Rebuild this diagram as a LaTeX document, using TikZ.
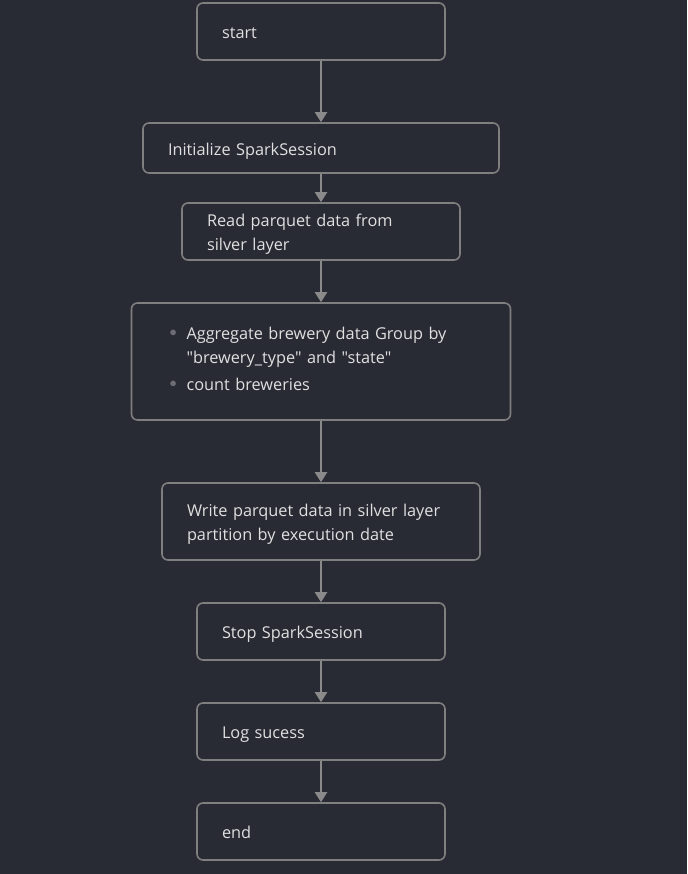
\documentclass[tikz,border=0pt]{standalone}
\usepackage{fontspec}
\newfontfamily\flowfont{Open Sans}
\usetikzlibrary{positioning,arrows.meta}
\definecolor{bgdark}{HTML}{282B34}
\definecolor{boxline}{HTML}{7F7F7F}
\definecolor{boxtext}{HTML}{E0E0E0}
\definecolor{arrowgray}{HTML}{8A8A8A}
\definecolor{dotgray}{HTML}{6C6E74}
\newcommand{\bitem}[1]{\hangindent=17pt\hangafter=1\makebox[17pt][l]{\textcolor{dotgray}{\raisebox{2.5pt}{\fontsize{14}{14}\selectfont$\bullet$}}}#1}

\begin{document}
\begin{tikzpicture}[x=1pt, y=-1pt, node distance=41.4pt, >={Triangle[width=12pt,length=10pt]}]
    \tikzstyle{stepbox} = [draw=boxline, line width=1.6pt, rounded corners=6pt, fill=bgdark, text=boxtext, align=left, inner sep=0pt, font=\flowfont\fontsize{16.3}{24}\selectfont, execute at begin node={\rule{0pt}{22pt}}, execute at end node={\rule[-7.2pt]{0pt}{7.2pt}}]
    \tikzstyle{arrow}   = [draw=arrowgray, fill=arrowgray, line width=2pt, ->]

    \fill[bgdark] (0,0) rectangle (687,874);
    \useasboundingbox (0,0) rectangle (687,874);

    \node [stepbox, minimum width=248pt, minimum height=57pt, text width=198pt] at (321,31.5) (start) {start};
    \node [stepbox, minimum width=356pt, minimum height=50pt, text width=306pt, below=61.4pt of start] (init) {Initialize SparkSession};
    \node [stepbox, minimum width=278pt, minimum height=57pt, text width=228pt, below=28.4pt of init] (read) {Read parquet data from\\silver layer};
    \node [stepbox, minimum width=379pt, minimum height=117pt, text width=303pt, below=of read, execute at end node={\rule[-15.2pt]{0pt}{15.2pt}}] (agg)
        {\bitem{Aggregate brewery data Group by\newline"brewery\_type" and "state"}\par\vspace{3pt}\bitem{count breweries}};
    \node [stepbox, minimum width=318pt, minimum height=77pt, text width=268pt, below=61.4pt of agg] (write) {Write parquet data in silver layer\\partition by execution date};
    \node [stepbox, minimum width=248pt, minimum height=57pt, text width=198pt, below=of write] (stop) {Stop SparkSession};
    \node [stepbox, minimum width=248pt, minimum height=57pt, text width=198pt, below=of stop] (logok) {Log sucess};
    \node [stepbox, minimum width=248pt, minimum height=57pt, text width=198pt, below=of logok] (end) {end};

    \draw [arrow] (start) -- (init);
    \draw [arrow] (init) -- (read);
    \draw [arrow] (read) -- (agg);
    \draw [arrow] (agg) -- (write);
    \draw [arrow] (write) -- (stop);
    \draw [arrow] (stop) -- (logok);
    \draw [arrow] (logok) -- (end);
\end{tikzpicture}
\end{document}
